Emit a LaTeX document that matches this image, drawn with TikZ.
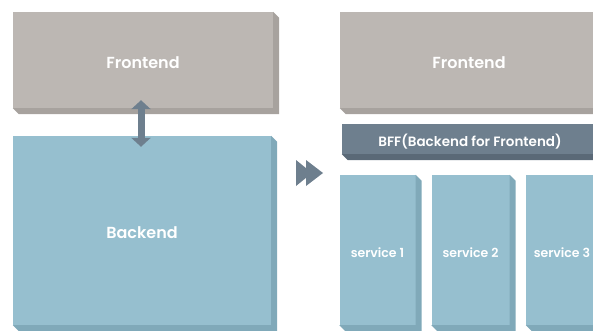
\documentclass[tikz,border=0pt]{standalone}
\usepackage{fontspec}
\setmainfont{Poppins}[BoldFont={Poppins SemiBold}]
\usepackage{tikz}
\usetikzlibrary{positioning,calc,arrows.meta}
\definecolor{stone}    {HTML}{BCB7B3}
\definecolor{stoneside}{HTML}{A7A29E}
\definecolor{sky}      {HTML}{96BFCF}
\definecolor{skyside}  {HTML}{80A9B9}
\definecolor{slate}    {HTML}{6E7F8E}
\definecolor{slateside}{HTML}{5A6977}
\tikzset{
  % --- faces
  face/.style   = {inner sep=0pt, text=white, align=center},
  fe/.style     = {face, fill=stone, font=\fontsize{16}{19}\selectfont\bfseries},
  be/.style     = {face, fill=sky, font=\fontsize{16}{19}\selectfont\bfseries},
  svc/.style    = {face, fill=sky, font=\fontsize{12.5}{15}\selectfont\bfseries},
  bff/.style    = {face, fill=slate, font=\fontsize{13.5}{16}\selectfont\bfseries},
  % --- connectors
  link/.style   = {draw=slate, line width=7pt,
                   {Triangle[width=19pt,length=9pt]}-{Triangle[width=19pt,length=9pt]}},
}
% side and bottom edge of a slab, 6pt deep
\newcommand{\slab}[2]{%
  \fill[#2] (#1.south west) -- ++(6,6) -- ($(#1.south east)+(6,6)$)
    -- ($(#1.north east)+(6,6)$) -- (#1.north east) -- (#1.south east) -- cycle;}
\newcommand{\lowered}[1]{\raisebox{-2.5pt}[\height][\depth]{#1}}

\begin{document}
\begin{tikzpicture}[x=1pt,y=-1pt]
  \useasboundingbox (0,0) rectangle (593,331);
  \clip (0,0) rectangle (593,331);

  % monolith
  \node[fe, minimum width=260pt, minimum height=96pt]  (feL) at (143,60)    {\lowered{Frontend}};
  \node[be, minimum width=258pt, minimum height=189pt] (beL) at (142,230.5) {\lowered{Backend}};
  \slab{feL}{stoneside}
  \slab{beL}{skyside}
  \draw[link] ($(feL.south)+(-2,-8)$) -- ($(beL.north)+(-1,11)$);

  % step to the right
  \fill[slate] (296,160) -- (312,173) -- (296,186) -- cycle;
  \fill[slate] (306,160) -- (323,173) -- (306,186) -- cycle;

  % backend for frontend
  \node[fe, minimum width=258pt, minimum height=96pt]  (feR) at (469,60)  {\lowered{Frontend}};
  \node[bff, minimum width=256pt, minimum height=30pt] (bff) at (470,139) {\lowered{BFF(Backend for Frontend)}};
  \slab{feR}{stoneside}
  \slab{bff}{slateside}

  \node[svc, minimum width=76pt, minimum height=150pt] (s1) at (377.5,250) {\lowered{service 1}};
  \node[svc, minimum width=78pt, minimum height=150pt] (s2) at (470.5,250) {\lowered{service 2}};
  \node[svc, minimum width=72pt, minimum height=150pt] (s3) at (562,250)   {\lowered{service 3}};
  \foreach \s in {s1,s2,s3}{
    \slab{\s}{skyside}
  }
\end{tikzpicture}
\end{document}
